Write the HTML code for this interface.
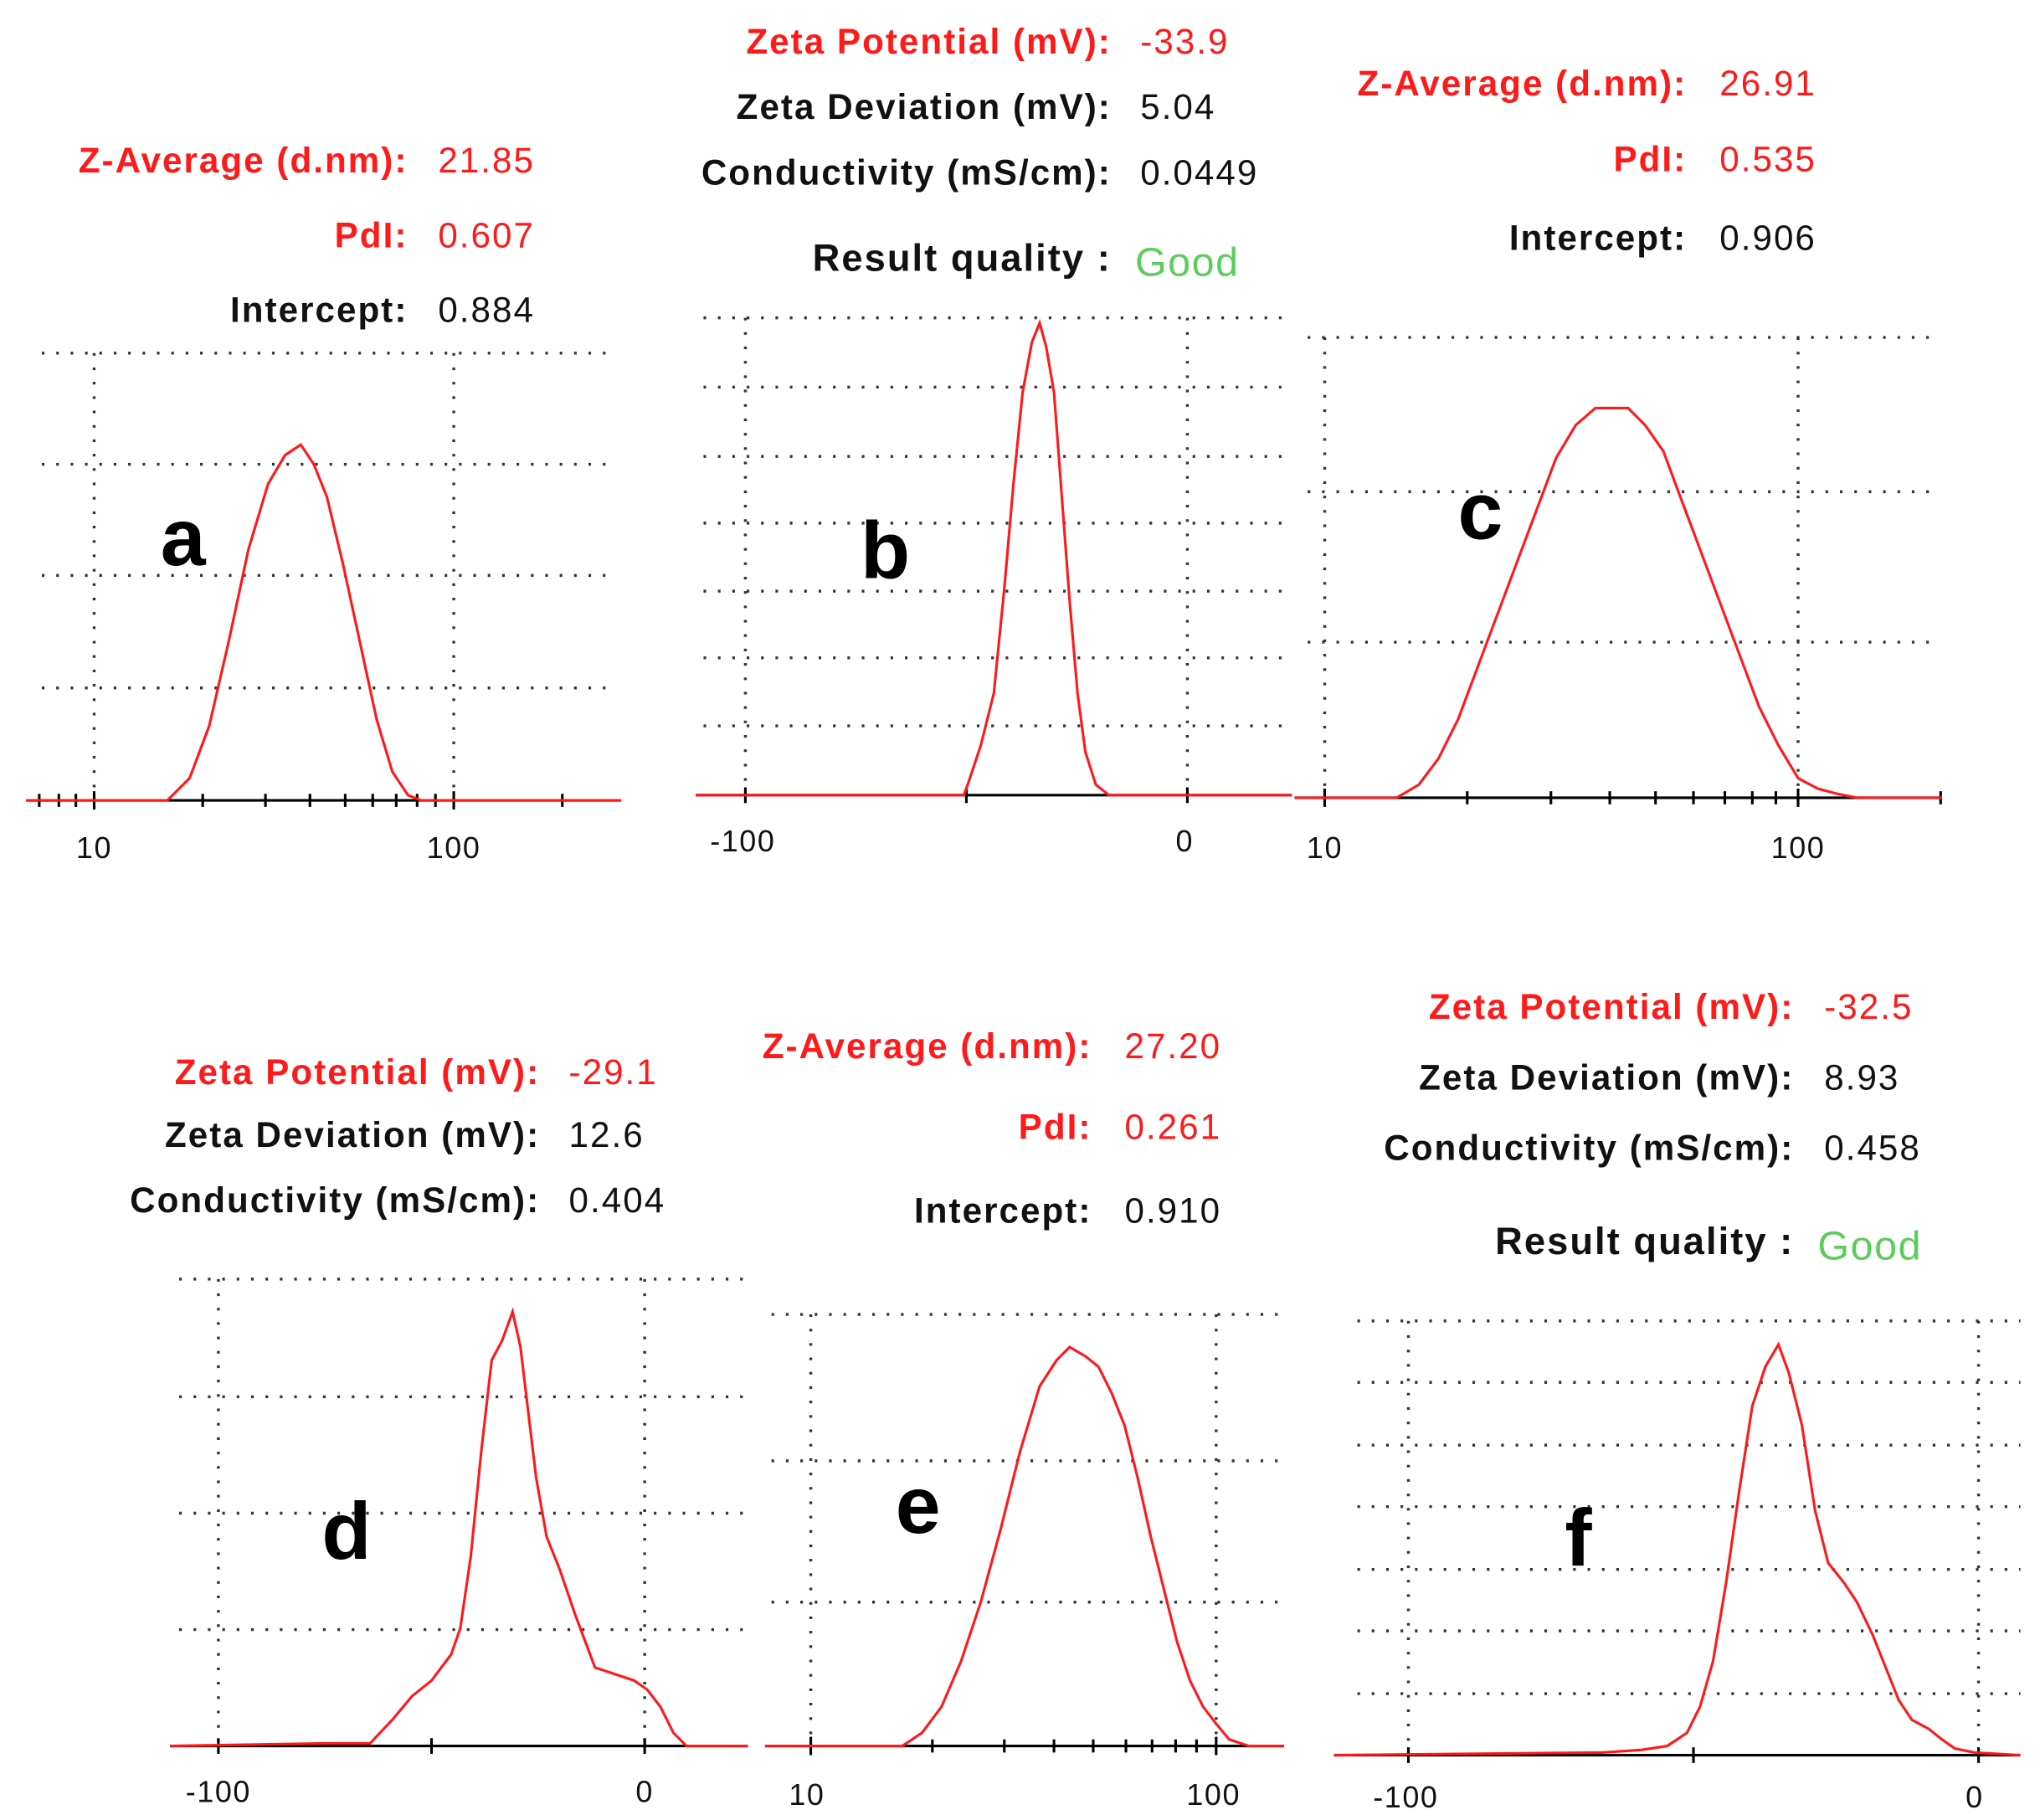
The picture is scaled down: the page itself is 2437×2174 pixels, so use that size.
<!DOCTYPE html>
<html><head><meta charset="utf-8"><style>
html,body{margin:0;padding:0;background:#fff}
svg{display:block}
text{font-family:"Liberation Sans",Arial,sans-serif}
.l{font-weight:bold;font-size:27px;letter-spacing:1.3px;text-anchor:end}
.v{font-size:27px;letter-spacing:1.3px}
.r{fill:#ff1a1a}.k{fill:#111}.g{fill:#5ccc5c}
.t{font-size:23px;letter-spacing:1px;text-anchor:middle;fill:#111}
.big{font-size:62px;font-weight:bold;fill:#000;text-anchor:middle}
.grid{stroke:#333;stroke-width:2.2;stroke-dasharray:2 9;fill:none}
.ax{stroke:#000;stroke-width:2}
.cv{stroke:#ff1a1a;stroke-width:2;fill:none}
</style></head><body>
<svg width="2437" height="2174" viewBox="0 0 1560 1391.6" preserveAspectRatio="none" xmlns="http://www.w3.org/2000/svg">
<!-- Panel a -->
<text class="l r" x="312" y="132">Z-Average (d.nm):</text><text class="v r" x="335" y="132">21.85</text>
<text class="l r" x="312" y="189">PdI:</text><text class="v r" x="335" y="189">0.607</text>
<text class="l k" x="312" y="246">Intercept:</text><text class="v k" x="335" y="246">0.884</text>
<path class="grid" d="M32 270H470M32 355H470M32 440H470M32 526H470M72 270V612M347 270V612"/>
<line class="ax" x1="20" y1="612" x2="475" y2="612"/>
<path class="ax" d="M30 607V617M45 607V617M58 607V617M72 605V619M155 607V617M203 607V617M237 607V617M264 607V617M285 607V617M303 607V617M319 607V617M333 607V617M347 605V619M430 607V617"/>
<polyline class="cv" points="20,612 128,612 145,595 160,555 175,490 190,420 205,370 218,348 230,340 240,355 250,380 262,430 275,490 288,550 300,590 312,608 322,612 475,612"/>
<text class="t" x="72" y="656">10</text><text class="t" x="347" y="656">100</text>
<text class="big" x="140" y="432">a</text>
<!-- Panel b -->
<text class="l r" x="850" y="41">Zeta Potential (mV):</text><text class="v r" x="872" y="41">-33.9</text>
<text class="l k" x="850" y="91">Zeta Deviation (mV):</text><text class="v k" x="872" y="91">5.04</text>
<text class="l k" x="850" y="141">Conductivity (mS/cm):</text><text class="v k" x="872" y="141">0.0449</text>
<text class="l k" x="850" y="207" style="font-size:29px">Result quality :</text><text class="g" x="868" y="211" style="font-size:31px;letter-spacing:1px">Good</text>
<path class="grid" d="M538 243H985M538 296H985M538 349H985M538 400H985M538 452H985M538 503H985M538 555H985M570 243V608M908 243V608"/>
<line class="ax" x1="532" y1="608" x2="988" y2="608"/>
<path class="ax" d="M570 602V614M739 602V614M908 602V614"/>
<polyline class="cv" points="532,608 737,608 740,600 750,570 760,530 768,450 775,370 782,300 789,262 795,247 800,265 806,300 812,380 818,460 824,530 830,575 838,600 848,608 988,608"/>
<text class="t" x="568" y="651">-100</text><text class="t" x="906" y="651">0</text>
<text class="big" x="677" y="442">b</text>
<!-- Panel c -->
<text class="l r" x="1290" y="73">Z-Average (d.nm):</text><text class="v r" x="1315" y="73">26.91</text>
<text class="l r" x="1290" y="131">PdI:</text><text class="v r" x="1315" y="131">0.535</text>
<text class="l k" x="1290" y="191">Intercept:</text><text class="v k" x="1315" y="191">0.906</text>
<path class="grid" d="M1000 258H1478M1000 376H1478M1000 491H1478M1013 258V610M1375 258V610"/>
<line class="ax" x1="990" y1="610" x2="1485" y2="610"/>
<path class="ax" d="M1013 603V617M1122 605V615M1186 605V615M1231 605V615M1266 605V615M1295 605V615M1319 605V615M1340 605V615M1358 605V615M1375 603V617M1484 605V615"/>
<polyline class="cv" points="990,610 1068,610 1085,600 1100,580 1115,550 1130,510 1145,470 1160,430 1175,390 1190,350 1205,325 1220,312 1245,312 1258,325 1272,345 1285,380 1300,420 1315,460 1330,500 1345,540 1360,570 1375,595 1390,603 1405,607 1420,610 1485,610"/>
<text class="t" x="1013" y="656">10</text><text class="t" x="1375" y="656">100</text>
<text class="big" x="1132" y="412">c</text>
<!-- Panel d -->
<text class="l r" x="413" y="829">Zeta Potential (mV):</text><text class="v r" x="435" y="829">-29.1</text>
<text class="l k" x="413" y="877">Zeta Deviation (mV):</text><text class="v k" x="435" y="877">12.6</text>
<text class="l k" x="413" y="927">Conductivity (mS/cm):</text><text class="v k" x="435" y="927">0.404</text>
<path class="grid" d="M137 978H570M137 1068H570M137 1157H570M137 1246H570M167 978V1335M493 978V1335"/>
<line class="ax" x1="130" y1="1335" x2="572" y2="1335"/>
<path class="ax" d="M167 1329V1341M330 1329V1341M493 1329V1341"/>
<polyline class="cv" points="130,1335 248,1333 283,1333 300,1315 315,1297 330,1285 345,1265 352,1245 360,1190 368,1110 376,1040 384,1025 392,1003 398,1030 404,1080 410,1130 418,1175 428,1200 440,1235 455,1275 470,1280 485,1285 495,1292 505,1305 515,1325 525,1335 572,1335"/>
<text class="t" x="167" y="1378">-100</text><text class="t" x="493" y="1378">0</text>
<text class="big" x="265" y="1192">d</text>
<!-- Panel e -->
<text class="l r" x="835" y="809">Z-Average (d.nm):</text><text class="v r" x="860" y="809">27.20</text>
<text class="l r" x="835" y="871">PdI:</text><text class="v r" x="860" y="871">0.261</text>
<text class="l k" x="835" y="935">Intercept:</text><text class="v k" x="860" y="935">0.910</text>
<path class="grid" d="M590 1005H980M590 1117H980M590 1225H980M620 1005V1335M930 1005V1335"/>
<line class="ax" x1="585" y1="1335" x2="982" y2="1335"/>
<path class="ax" d="M620 1328V1342M713 1330V1340M768 1330V1340M806 1330V1340M836 1330V1340M861 1330V1340M881 1330V1340M899 1330V1340M915 1330V1340M930 1328V1342"/>
<polyline class="cv" points="585,1335 690,1335 705,1325 720,1305 735,1270 750,1225 765,1170 780,1110 795,1060 808,1040 818,1030 830,1037 840,1045 850,1065 860,1090 870,1130 880,1175 890,1215 900,1255 910,1285 920,1305 930,1318 940,1330 955,1335 982,1335"/>
<text class="t" x="617" y="1380">10</text><text class="t" x="928" y="1380">100</text>
<text class="big" x="702" y="1172">e</text>
<!-- Panel f -->
<text class="l r" x="1372" y="779">Zeta Potential (mV):</text><text class="v r" x="1395" y="779">-32.5</text>
<text class="l k" x="1372" y="833">Zeta Deviation (mV):</text><text class="v k" x="1395" y="833">8.93</text>
<text class="l k" x="1372" y="887">Conductivity (mS/cm):</text><text class="v k" x="1395" y="887">0.458</text>
<text class="l k" x="1372" y="959" style="font-size:29px">Result quality :</text><text class="g" x="1390" y="963" style="font-size:31px;letter-spacing:1px">Good</text>
<path class="grid" d="M1038 1010H1545M1038 1057H1545M1038 1105H1545M1038 1152H1545M1038 1200H1545M1038 1247H1545M1038 1295H1545M1077 1010V1342M1513 1010V1342"/>
<line class="ax" x1="1020" y1="1342" x2="1545" y2="1342"/>
<path class="ax" d="M1077 1336V1348M1295 1336V1348M1513 1336V1348"/>
<polyline class="cv" points="1020,1342 1225,1340 1255,1338 1275,1335 1290,1325 1300,1305 1310,1270 1320,1210 1330,1140 1340,1075 1350,1045 1360,1028 1368,1050 1378,1090 1388,1155 1398,1195 1410,1210 1420,1225 1432,1250 1442,1275 1452,1300 1462,1315 1475,1322 1485,1330 1495,1337 1510,1340 1545,1342"/>
<text class="t" x="1075" y="1382">-100</text><text class="t" x="1510" y="1382">0</text>
<text class="big" x="1207" y="1197">f</text>
</svg>
</body></html>
